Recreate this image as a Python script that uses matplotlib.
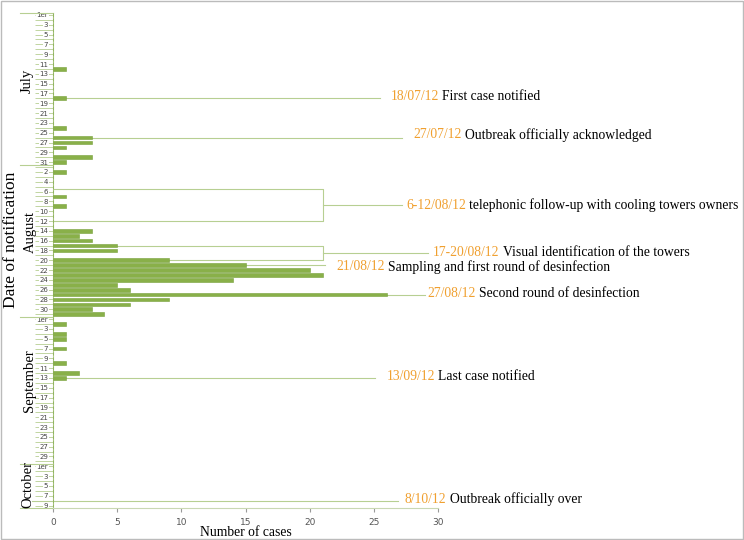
import numpy as np
import matplotlib.pyplot as plt
from matplotlib.patches import Rectangle

# one row per day, 1 July to 9 October 2012
month_names = ['July', 'August', 'September', 'October']
month_days = [31, 31, 30, 9]

# notified cases per day (days without cases are left out)
july_days = [12, 18, 24, 26, 27, 28, 30, 31]
july_cases = [1, 1, 1, 3, 3, 1, 3, 1]
aug_days = [2, 7, 9, 14, 15, 16, 17, 18, 20, 21, 22, 23, 24, 25, 26, 27, 28, 29, 30, 31]
aug_cases = [1, 1, 1, 3, 2, 3, 5, 5, 9, 15, 20, 21, 14, 5, 6, 26, 9, 6, 3, 4]
sep_days = [2, 4, 5, 7, 10, 12, 13]
sep_cases = [1, 1, 1, 1, 1, 2, 1]

# single-day events: (month, day, date text, description)
event_month = [0, 0, 1, 1, 2, 3]
event_day = [18, 26, 21, 27, 13, 8]
event_date = ['18/07/12', '27/07/12', '21/08/12', '27/08/12', '13/09/12', '8/10/12']
event_text = ['First case notified', 'Outbreak officially acknowledged',
              'Sampling and first round of desinfection', 'Second round of desinfection',
              'Last case notified', 'Outbreak officially over']

# periods shown with a bracket
period_start = [(1, 6), (1, 17)]
period_end = [(1, 12), (1, 20)]
period_date = ['6-12/08/12', '17-20/08/12']
period_text = ['telephonic follow-up with cooling towers owners',
               'Visual identification of the towers']

month_start = np.concatenate([[0], np.cumsum(month_days)[:-1]])
n_rows = sum(month_days)


def row(m, d):
    return month_start[m] + d - 1


daily = np.zeros(n_rows)
for m, days, cases in [(0, july_days, july_cases), (1, aug_days, aug_cases), (2, sep_days, sep_cases)]:
    for d, c in zip(days, cases):
        daily[row(m, d)] = c

# tick labels: every second row
labels = []
for m, nd in enumerate(month_days):
    for d in range(1, nd + 1):
        r = row(m, d)
        if r % 2 == 0:
            labels.append('1er' if d == 1 else str(d))
        else:
            labels.append('')

bar_green = '#89b049'
line_green = '#b7cf92'
orange = '#f0a030'
serif = ['Liberation Serif', 'DejaVu Serif']

fig = plt.figure(figsize=(7.44, 5.4), dpi=100)
ax = fig.add_axes([53 / 744, 1 - 508 / 540, 385 / 744, 495.5 / 540])

rows = np.arange(n_rows)
ax.barh(rows, daily, height=0.76, color=bar_green, edgecolor='#76a03a', linewidth=0.4, zorder=3)
ax.set_xlim(0, 30)
ax.set_ylim(n_rows - 0.5, -0.5)

for s in ['top', 'right']:
    ax.spines[s].set_visible(False)
ax.spines['left'].set_color(line_green)
ax.spines['bottom'].set_color('#c9d8b3')

ax.set_xticks(range(0, 31, 5))
ax.tick_params(axis='x', length=3, color='#999999', labelsize=6.5, labelcolor='#555555', pad=4)
ax.set_yticks(rows)
ax.set_yticklabels(labels, fontsize=5, color='#444444')
ax.tick_params(axis='y', length=13, width=0.6, color=line_green, pad=-9.5)
for t in ax.get_yticklabels():
    t.set_bbox(dict(facecolor='white', edgecolor='none', pad=0.4))

# month separators and names
ytrans = ax.get_yaxis_transform()
bounds = list(month_start - 0.5) + [n_rows - 0.5]
for b in bounds:
    ax.plot([-0.086, 0], [b, b], transform=ytrans, clip_on=False, color=line_green, lw=0.8)
month_pos = [13.5, 44.2, 74.6, 95.8]
month_x = [-0.068, -0.06, -0.06, -0.065]
for name, y, x in zip(month_names, month_pos, month_x):
    ax.text(x, y, name, transform=ytrans, rotation=90, ha='center', va='center',
            fontsize=10.5, family=serif)

fig.text(11 / 744, 1 - 240 / 540, 'Date of notification', rotation=90, ha='center', va='center',
         fontsize=12.5, family=serif)
fig.text(246 / 744, 1 - 532 / 540, 'Number of cases', ha='center', va='center',
         fontsize=9.8, family=serif)


def label(x, y, date, desc):
    t = ax.text(x, y, date, color=orange, fontsize=9.8, family=serif, va='center', clip_on=False)
    ax.annotate(desc, xy=(1, 0.5), xycoords=t, xytext=(2.4, 0), textcoords='offset points',
                va='center', fontsize=9.8, family=serif, annotation_clip=False)


# single-day events
line_end = [25.5, 27.2, 21.2, 29.0, 25.1, 26.9]
text_x = [26.3, 28.05, 22.1, 29.2, 26.0, 27.4]
text_dy = [-0.4, -0.6, 0.3, -0.3, -0.3, -0.3]
for m, d, date, desc, xe, xt, dy in zip(event_month, event_day, event_date, event_text,
                                        line_end, text_x, text_dy):
    r = row(m, d)
    x0 = daily[r] if daily[r] > 0 else -1.6
    ax.plot([x0, xe], [r, r], color=line_green, lw=0.8, clip_on=False)
    label(xt, r + dy, date, desc)

# period brackets
bracket_x = 21.0
conn_end = [27.2, 29.25]
period_tx = [27.5, 29.6]
tops = [row(*period_start[0]) - 0.5, row(*period_start[1])]
bots = [row(*period_end[0]), row(*period_end[1])]
for top, bot, xe, xt, date, desc in zip(tops, bots, conn_end, period_tx, period_date, period_text):
    ax.plot([0, bracket_x, bracket_x, 0], [top, top, bot, bot], color=line_green, lw=0.8)
    mid = (top + bot) / 2
    ax.plot([bracket_x, xe], [mid, mid], color=line_green, lw=0.8, clip_on=False)
    label(xt, mid, date, desc)

fig.patches.append(Rectangle((0.002, 0.002), 0.996, 0.996, transform=fig.transFigure,
                             fill=False, ec='#bbbbbb', lw=1))

fig.savefig('out.png', dpi=100)
